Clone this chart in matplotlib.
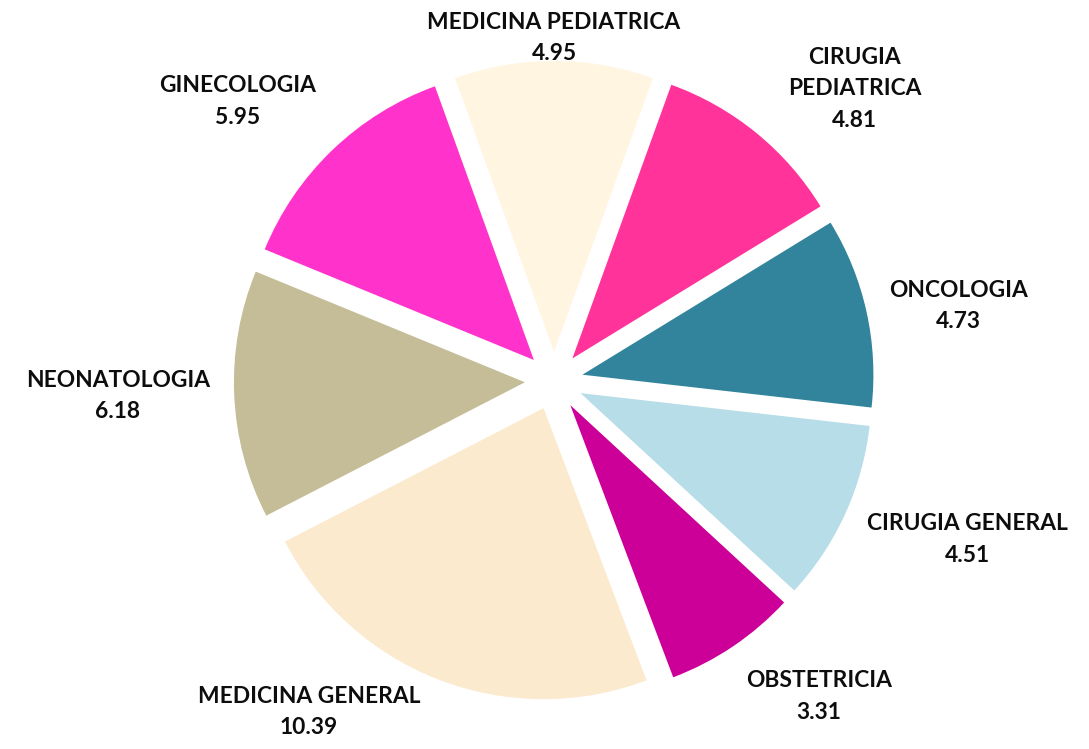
import matplotlib.pyplot as plt
import numpy as np

plt.rcParams['font.family'] = ['Lato', 'DejaVu Sans']

departments = ['MEDICINA PEDIATRICA', 'CIRUGIA\nPEDIATRICA', 'ONCOLOGIA',
               'CIRUGIA GENERAL', 'OBSTETRICIA', 'MEDICINA GENERAL',
               'NEONATOLOGIA', 'GINECOLOGIA']
values = [4.95, 4.81, 4.73, 4.51, 3.31, 10.39, 6.18, 5.95]
colors = ['#FFF5E1', '#FF3399', '#31849B', '#B7DDE8', '#CC0099', '#FBEACD',
          '#C4BD97', '#FF33CC']

# label placement (clockwise angle from top in degrees, distance in radii)
label_angle = [0, 45.8, 79.5, 111, 140, 216.5, 268, 311.5]
label_dist = [1.18, 1.44, 1.415, 1.52, 1.415, 1.415, 1.50, 1.45]

fig = plt.figure(figsize=(10.89, 7.49), dpi=100)
ax = fig.add_axes([0, 0, 1, 1])

first_half = values[0] / sum(values) * 360 / 2
ax.pie(values, colors=colors, explode=[0.1] * len(values),
       startangle=90 + first_half, counterclock=False,
       wedgeprops={'linewidth': 0})

for name, val, ang, dist in zip(departments, values, label_angle, label_dist):
    a = np.radians(ang)
    ax.text(dist * np.sin(a), dist * np.cos(a), f'{name}\n{val:.2f}',
            ha='center', va='center', fontsize=16.4, fontweight='bold',
            linespacing=1.6, color='#0d0d0d')

# centre of the pie at pixel (554, 381), radius 291 px
r_px = 291
ax.set_aspect('auto')
ax.set_xlim(-554 / r_px, (1089 - 554) / r_px)
ax.set_ylim(-(749 - 381) / r_px, 381 / r_px)
ax.axis('off')

fig.savefig('out.png', dpi=100, facecolor='white')
